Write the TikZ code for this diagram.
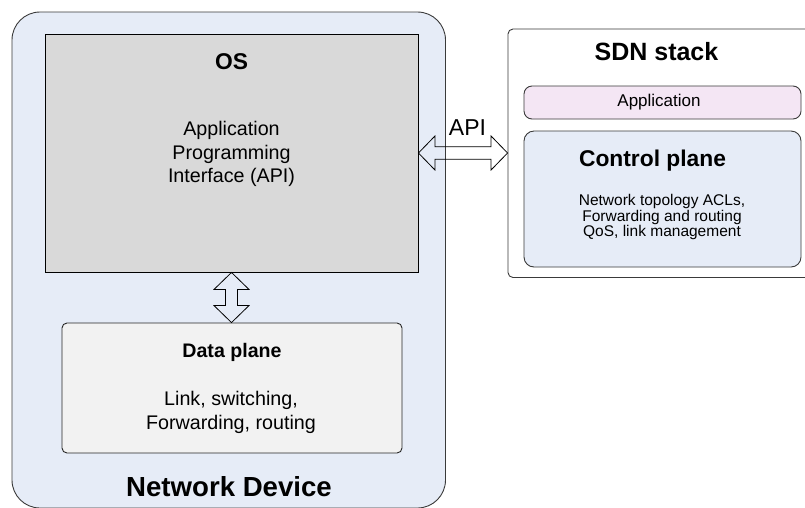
\documentclass[tikz,border=0pt]{standalone}
\usepackage{fontspec}
\setmainfont{Liberation Sans}
\usetikzlibrary{calc}
\definecolor{devfill}{HTML}{E6ECF7}
\definecolor{osfill}{HTML}{D9D9D9}
\definecolor{datafill}{HTML}{F2F2F2}
\definecolor{appfill}{HTML}{F4E6F4}
\definecolor{edge}{HTML}{3A3A3A}
\tikzset{
  box/.style={draw=edge, line width=0.9pt, inner sep=0pt},
  hollow/.style={draw=black, line width=0.8pt, line join=miter},
  bodytext/.style={align=center, inner sep=0pt, font=\fontsize{19.7}{23.5}\selectfont},
  smalltext/.style={align=center, inner sep=0pt, font=\fontsize{15.5}{15.7}\selectfont},
  titletext/.style={inner sep=0pt, font=\bfseries\fontsize{#1}{#1}\selectfont},
}
\begin{document}
\begin{tikzpicture}[x=1pt, y=-1pt]
\useasboundingbox (0,0) rectangle (805,507);
\begin{scope}
\clip (0,0) rectangle (805,507);

% network device frame
\node[box, fill=devfill, rounded corners=28pt, minimum width=433.5pt, minimum height=496pt] (device) at (228.75,260) {};
% operating system block
\node[box, draw=black, fill=osfill, minimum width=373pt, minimum height=238pt] (os) at (231.5,153) {};
% data plane block
\node[box, draw=black!85, fill=datafill, rounded corners=5pt, minimum width=340pt, minimum height=130pt] (data) at (232,388) {};

% SDN stack frame
\node[box, fill=white, rounded corners=5pt, minimum width=312pt, minimum height=248.5pt] (sdn) at (664,153.25) {};
\node[box, fill=appfill, rounded corners=8pt, minimum width=277pt, minimum height=33pt] (app) at (662.5,102.5) {};
\node[box, fill=devfill, rounded corners=10pt, minimum width=277pt, minimum height=136pt] (ctrl) at (662.5,199) {};
\end{scope}

% texts
\node[titletext=22.8] (ostitle) at (231.5,62) {OS};
\node[bodytext] (apitext) at (231.5,154) {Application\\Programming\\Interface (API)};
\node[titletext=19.6] (datatitle) at (232,352) {Data plane};
\node[bodytext] (datatext) at (231,412.5) {Link, switching,\\Forwarding, routing};
\node[titletext=27.6] (devtitle) at (229,487) {Network Device};
\node[titletext=25] (sdntitle) at (656.5,52) {SDN stack};
\node[inner sep=0pt, font=\fontsize{17}{17}\selectfont] (apptitle) at (659,102.5) {Application};
\node[titletext=22.8] (ctrltitle) at (652.5,161) {Control plane};
\node[smalltext] (ctrltext) at (662,217) {Network topology ACLs,\\Forwarding and routing\\QoS, link management};

% API double arrow between the OS and the SDN stack
\draw[hollow] let \p1=(os.east), \p2=(sdn.west) in
  (\x1,\y1) -- (\x1+16.5pt,\y1+17pt) -- (\x1+16.5pt,\y1+6.3pt)
  -- (\x2-16.5pt,\y1+6.3pt) -- (\x2-16.5pt,\y1+17pt) -- (\x2,\y1)
  -- (\x2-16.5pt,\y1-17pt) -- (\x2-16.5pt,\y1-6.3pt)
  -- (\x1+16.5pt,\y1-6.3pt) -- (\x1+16.5pt,\y1-17pt) -- cycle;
\node[inner sep=0pt, font=\fontsize{23}{23}\selectfont] (apilabel) at (467.5,127.5) {API};

% double arrow between the OS and the data plane
\draw[hollow] let \p1=(os.south), \p2=(data.north) in
  (\x1,\y1) -- (\x1+17.5pt,\y1-17pt) -- (\x1+6pt,\y1-17pt)
  -- (\x1+6pt,\y2+17pt) -- (\x1+17.5pt,\y2+17pt) -- (\x1,\y2)
  -- (\x1-17.5pt,\y2+17pt) -- (\x1-6pt,\y2+17pt)
  -- (\x1-6pt,\y1-17pt) -- (\x1-17.5pt,\y1-17pt) -- cycle;
\end{tikzpicture}
\end{document}
